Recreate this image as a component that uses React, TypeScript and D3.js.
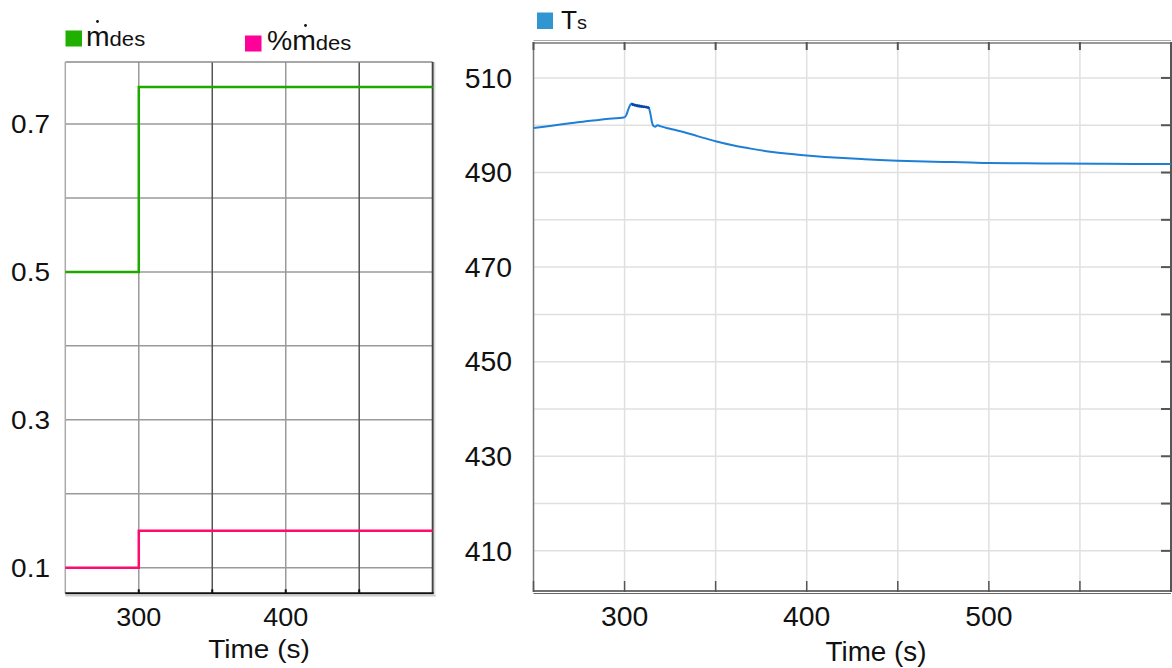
import React from 'react';
import * as d3 from 'd3';

const W = 1172;
const H = 668;

// Left panel data
const stepTimes = [250, 300, 500];
const mdotDes = [0.5, 0.75, 0.75];
const pctMdotDes = [0.1, 0.15, 0.15];
const leftYTicks = [0.1, 0.3, 0.5, 0.7];
const leftYGrid = [0.1, 0.2, 0.3, 0.4, 0.5, 0.6, 0.7];
const leftXTicks = [300, 400];
const leftXGrid = [300, 350, 400, 450];

// Right panel data
const tsTimes = [250, 260, 270, 280, 290, 300, 301, 302, 303, 304, 304.5, 305, 305.5, 306, 306.5, 307, 307.5, 308, 308.5, 309, 309.5, 310, 310.5, 311, 311.5, 312, 312.5, 313, 313.5, 314.3, 315, 316, 317, 318, 319, 320, 325, 330, 340, 350, 360, 370, 380, 390, 400, 410, 420, 430, 440, 450, 460, 470, 480, 490, 500, 520, 540, 560, 580, 600];
const tsValues = [499.4, 499.9, 500.4, 500.9, 501.3, 501.7, 502.2, 503.3, 504.2, 504.6, 504.3, 504.4, 504.2, 504.3, 504.1, 504.2, 504.0, 504.15, 503.95, 504.1, 503.9, 504.0, 503.85, 503.95, 503.8, 503.9, 503.7, 503.8, 503.5, 502.2, 500.7, 499.8, 499.7, 500.0, 499.9, 499.75, 499.25, 498.8, 497.7, 496.6, 495.7, 495.0, 494.4, 493.95, 493.6, 493.3, 493.05, 492.85, 492.65, 492.5, 492.4, 492.3, 492.2, 492.1, 492.0, 491.95, 491.9, 491.85, 491.8, 491.8];
const rightYTicks = [410, 430, 450, 470, 490, 510];
const rightYGrid = [410, 420, 430, 440, 450, 460, 470, 480, 490, 500, 510];
const rightXTicks = [300, 400, 500];
const rightXGrid = [250, 300, 350, 400, 450, 500, 550];

const FONT = '"Liberation Sans", Arial, sans-serif';

function T(props: { x: number; y: number; sx?: number; anchor?: string; size: number; dy?: string; children: React.ReactNode }) {
  const { x, y, sx = 1.1, anchor = 'start', size, dy, children } = props;
  return (
    <text transform={`translate(${x},${y}) scale(${sx},1)`} textAnchor={anchor} fontSize={size} dy={dy} fill="#111">
      {children}
    </text>
  );
}

export default function App() {
  // left scales
  const lx = d3.scaleLinear().domain([250, 500]).range([65.3, 432.7]);
  const ly = d3.scaleLinear().domain([0.0654, 0.7838]).range([593.3, 62]);
  const stepLine = (vals: number[]) =>
    d3.line<number>().x((_, i) => lx(stepTimes[i])).y((v) => ly(v)).curve(d3.curveStepAfter)(vals) || '';

  // right scales
  const rx = d3.scaleLinear().domain([250, 600]).range([533.5, 1171]);
  const ry = d3.scaleLinear().domain([401.3, 517.6]).range([592, 42]);
  const tsPts = tsTimes.map((t, i) => [t, tsValues[i]] as [number, number]);
  const tsLine = d3.line<[number, number]>().x((d) => rx(d[0])).y((d) => ry(d[1])).curve(d3.curveMonotoneX);
  const tsPath = tsLine(tsPts) || '';
  const plateau = tsPts.filter((d) => d[0] >= 303.5 && d[0] <= 313.5);
  const plateauPath = tsLine(plateau) || '';

  const L = { x0: lx.range()[0], x1: lx.range()[1], y0: ly.range()[1], y1: ly.range()[0] };
  const R = { x0: rx.range()[0], x1: rx.range()[1], y0: ry.range()[1], y1: ry.range()[0] };

  return (
    <svg width={W} height={H} style={{ position: 'absolute', left: 0, top: 0, background: '#fff' }} fontFamily={FONT}>
      <rect x={0} y={0} width={W} height={H} fill="#fff" />

      {/* ===== LEFT PANEL ===== */}
      {leftYGrid.map((v) => (
        <line key={'lyg' + v} x1={L.x0} x2={L.x1} y1={ly(v)} y2={ly(v)} stroke="#9a9a9a" strokeWidth={1.5} />
      ))}
      {leftXGrid.map((t, i) => (
        <line key={'lxg' + t} x1={lx(t)} x2={lx(t)} y1={L.y0} y2={L.y1} stroke={i % 2 === 0 ? '#9a9a9a' : '#555'} strokeWidth={1.5} />
      ))}
      {/* frame */}
      <line x1={L.x0} x2={L.x1} y1={L.y0} y2={L.y0} stroke="#8a8a8a" strokeWidth={1.5} />
      <line x1={L.x0} x2={L.x0} y1={L.y0} y2={L.y1} stroke="#aaa" strokeWidth={1.5} />
      <line x1={L.x1} x2={L.x1} y1={L.y0} y2={L.y1} stroke="#444" strokeWidth={2} />
      <line x1={L.x1 + 2} x2={L.x1 + 2} y1={L.y0} y2={L.y1 + 3} stroke="#ddd" strokeWidth={1.5} />
      <line x1={L.x0} x2={L.x1 + 1} y1={L.y1} y2={L.y1} stroke="#111" strokeWidth={2} />
      <line x1={L.x0} x2={L.x1 + 3} y1={L.y1 + 2.5} y2={L.y1 + 2.5} stroke="#ccc" strokeWidth={1.5} />
      {leftXGrid.map((t) => (
        <line key={'lxt' + t} x1={lx(t)} x2={lx(t)} y1={L.y1} y2={L.y1 - 4} stroke="#111" strokeWidth={2} />
      ))}
      {/* series */}
      <path d={stepLine(mdotDes)} fill="none" stroke="#1fa800" strokeWidth={2.5} />
      <path d={stepLine(pctMdotDes)} fill="none" stroke="#ff0a6e" strokeWidth={2.5} />
      {/* y labels */}
      {leftYTicks.map((v) => (
        <T key={'lyl' + v} x={50} y={ly(v)} dy="0.36em" anchor="end" size={25} sx={1.12}>
          {d3.format('.1f')(v)}
        </T>
      ))}
      {leftXTicks.map((t) => (
        <T key={'lxl' + t} x={lx(t)} y={626} anchor="middle" size={25} sx={1.08}>
          {t}
        </T>
      ))}
      <T x={259} y={658} anchor="middle" size={25} sx={1.12}>Time (s)</T>
      {/* left legend */}
      <rect x={65.5} y={30.5} width={16.5} height={16} fill="#1fb000" />
      <T x={86} y={45.5} size={27} sx={1.05}>m<tspan fontSize={21}>des</tspan></T>
      <circle cx={97.5} cy={21.5} r={1.4} fill="#111" />
      <rect x={245} y={35.5} width={16.5} height={16} fill="#ff0099" />
      <T x={267} y={50} size={27} sx={1.05}>%m<tspan fontSize={21}>des</tspan></T>
      <circle cx={305.5} cy={25.5} r={1.4} fill="#111" />

      {/* ===== RIGHT PANEL ===== */}
      {rightYGrid.map((v) => (
        <line key={'ryg' + v} x1={R.x0} x2={R.x1} y1={ry(v)} y2={ry(v)} stroke="#e0e0e0" strokeWidth={1.5} />
      ))}
      {rightXGrid.slice(1).map((t) => (
        <line key={'rxg' + t} x1={rx(t)} x2={rx(t)} y1={R.y0} y2={R.y1} stroke="#e0e0e0" strokeWidth={1.5} />
      ))}
      {/* frame */}
      <line x1={R.x0} x2={R.x1} y1={R.y0 - 1.5} y2={R.y0 - 1.5} stroke="#aaa" strokeWidth={1.2} />
      <line x1={R.x0} x2={R.x1} y1={R.y0 + 1} y2={R.y0 + 1} stroke="#777" strokeWidth={1.5} />
      <line x1={R.x0} x2={R.x0} y1={R.y0} y2={R.y1} stroke="#777" strokeWidth={1.5} />
      <line x1={R.x1} x2={R.x1} y1={R.y0} y2={R.y1} stroke="#555" strokeWidth={2} />
      <line x1={R.x0} x2={R.x1} y1={R.y1 - 1} y2={R.y1 - 1} stroke="#444" strokeWidth={1.5} />
      <line x1={R.x0} x2={R.x1} y1={R.y1 + 1.5} y2={R.y1 + 1.5} stroke="#666" strokeWidth={1.2} />
      {rightXGrid.map((t) => (
        <g key={'rxt' + t}>
          <line x1={rx(t)} x2={rx(t)} y1={R.y0} y2={R.y0 + 8} stroke="#555" strokeWidth={2} />
          <line x1={rx(t)} x2={rx(t)} y1={R.y1} y2={R.y1 - 11} stroke="#555" strokeWidth={1.5} />
        </g>
      ))}
      {rightYGrid.map((v) => (
        <line key={'ryt' + v} x1={R.x1} x2={R.x1 - 10} y1={ry(v)} y2={ry(v)} stroke="#555" strokeWidth={2} />
      ))}
      {/* series */}
      <path d={tsPath} fill="none" stroke="#1e7fd6" strokeWidth={2} />
      <path d={plateauPath} fill="none" stroke="#0b46a8" strokeWidth={2.2} />
      {/* labels */}
      {rightYTicks.map((v) => (
        <T key={'ryl' + v} x={512} y={ry(v)} dy="0.36em" anchor="end" size={27} sx={1.05}>
          {v}
        </T>
      ))}
      {rightXTicks.map((t) => (
        <T key={'rxl' + t} x={rx(t)} y={626} anchor="middle" size={27} sx={1.05}>
          {t}
        </T>
      ))}
      <T x={876} y={661} anchor="middle" size={27} sx={1.03}>Time (s)</T>
      {/* right legend */}
      <rect x={537} y={12.5} width={16} height={16.5} fill="#2f96d2" />
      <T x={561} y={28.5} size={25} sx={1.05}>T<tspan fontSize={19}>s</tspan></T>
    </svg>
  );
}
